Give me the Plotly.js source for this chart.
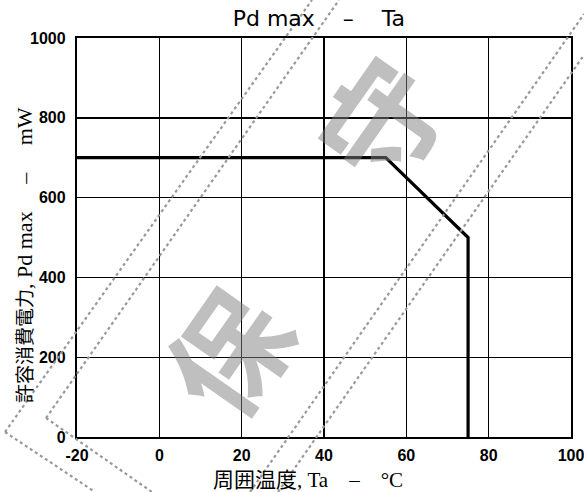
<!DOCTYPE html>
<html>
<head>
<meta charset="utf-8">
<script src="https://cdn.plot.ly/plotly-3.0.1.min.js"></script>
<style>
  html, body { margin: 0; padding: 0; background: #fff; }
  #chart { width: 584px; height: 492px; }
</style>
</head>
<body>
<div id="chart"></div>
<script>
// Derating curve: maximum allowable power dissipation vs. ambient temperature
const ambientTemp = [-20, 55, 75, 75];      // Ta, °C
const powerMax    = [700, 700, 500, 0];     // Pd max, mW

const xTicks = [-20, 0, 20, 40, 60, 80, 100];
const yTicks = [0, 200, 400, 600, 800, 1000];

const sp = n => '\u00a0'.repeat(n);
const cjk = (s, size) => '<span style="font-family:\'Noto Sans CJK JP\';font-size:' + size + 'px">' + s + '</span>';
const titleText  = 'Pd max' + sp(4) + '–' + sp(4) + 'Ta';
const xTitleText = cjk('周囲温度', 21) + ',' + sp(1) + 'Ta' + sp(4) + '–' + sp(4) + '°C';
const yTitleText = cjk('許容消費電力', 19) + ',' + sp(1) + 'Pd max' + sp(5) + '–' + sp(5) + 'mW';

// "保守" (maintenance product) stamp across the sheet
const stampChars = ['保', '守'];

// plot-area geometry in pixels (used to place titles and the stamp decoration)
const W = 584, H = 492;
const M = { l: 77, r: 13, t: 38, b: 55 };
const PW = W - M.l - M.r, PH = H - M.t - M.b;
const px = x => (x - M.l) / PW;
const py = y => (H - M.b - y) / PH;

// stamp frame: double dotted border, tilted ~55°
const stampSegments = [
  [[5, 432], [312, 0]],
  [[46, 418], [339, 0]],
  [[5, 432], [95, 492]],
  [[46, 418], [152, 492]],
  [[250, 492], [584, 14]],
  [[278, 492], [584, 55]]
];
const stampCentres = [[224, 350], [377, 118]];

const stampShapes = stampSegments.map(([a, b]) => ({
  type: 'line', xref: 'paper', yref: 'paper',
  x0: px(a[0]), y0: py(a[1]), x1: px(b[0]), y1: py(b[1]),
  line: { color: '#999', width: 2.2, dash: 'dot' },
  layer: 'above'
}));

const stampNotes = stampChars.map((ch, i) => ({
  xref: 'paper', yref: 'paper',
  x: px(stampCentres[i][0]), y: py(stampCentres[i][1]),
  xanchor: 'center', yanchor: 'middle',
  text: ch, showarrow: false, textangle: -55,
  font: { family: 'Noto Sans CJK JP', size: 118, color: 'rgba(128,128,128,0.5)', weight: 700 }
}));

const axisTitleFont = { family: 'Liberation Serif, serif', size: 21, color: '#000' };

// axis titles, placed as annotations so they can sit off-centre like the printed sheet
const axisTitles = [
  {
    xref: 'paper', yref: 'paper', x: px(308), y: py(478),
    xanchor: 'center', yanchor: 'middle', showarrow: false,
    text: xTitleText, font: axisTitleFont
  },
  {
    xref: 'paper', yref: 'paper', x: px(23), y: py(255),
    xanchor: 'center', yanchor: 'middle', showarrow: false, textangle: -90,
    text: yTitleText, font: Object.assign({}, axisTitleFont, { size: 22 })
  }
];

const tickFont = { family: 'Liberation Sans, Arial, sans-serif', size: 16, color: '#000', weight: 700 };

const trace = {
  x: ambientTemp, y: powerMax,
  type: 'scatter', mode: 'lines',
  line: { color: '#000', width: 3.2 },
  hoverinfo: 'skip'
};

const axisCommon = {
  showgrid: true, gridcolor: '#000', gridwidth: 1.4,
  zeroline: false,
  showline: true, linecolor: '#000', linewidth: 2.2, mirror: true,
  ticks: '', tickfont: tickFont,
  ticklabeloverflow: 'allow',
  automargin: false
};

const layout = {
  width: W, height: H,
  margin: M,
  paper_bgcolor: '#fff', plot_bgcolor: '#fff',
  showlegend: false,
  title: {
    text: titleText,
    font: { family: 'DejaVu Sans, sans-serif', size: 22, color: '#000' },
    x: 0.546, xanchor: 'center', y: 0.962, yanchor: 'middle'
  },
  xaxis: Object.assign({}, axisCommon, {
    range: [-20, 100], tickvals: xTicks, ticktext: xTicks.map(String),
    ticklabelstandoff: 3
  }),
  yaxis: Object.assign({}, axisCommon, {
    range: [0, 1000], tickvals: yTicks, ticktext: yTicks.map(String),
    ticklabelstandoff: 6
  }),
  shapes: stampShapes,
  annotations: stampNotes.concat(axisTitles)
};

Plotly.newPlot('chart', [trace], layout, { staticPlot: true, displayModeBar: false });
</script>
</body>
</html>
